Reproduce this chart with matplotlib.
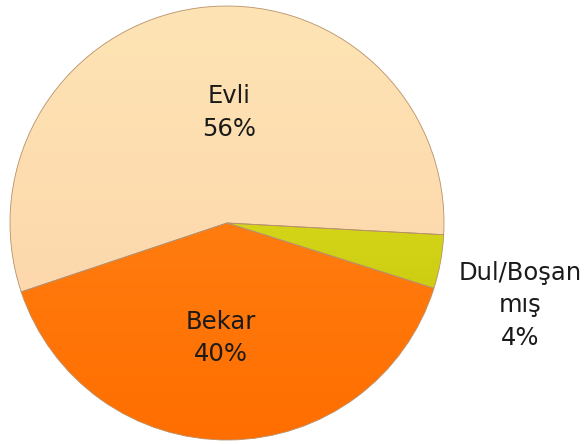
import numpy as np
import matplotlib
matplotlib.use("Agg")
from matplotlib import pyplot as plt
from matplotlib.colors import LinearSegmentedColormap

# data
labels = ['Evli', 'Dul/Boşan\nmış', 'Bekar']
shares = [56, 4, 40]
colors_top = ['#FEE4B4', '#ECEC30', '#FF8A1E']
colors_bottom = ['#FCD2A8', '#BCBC00', '#FF6E00']

fig = plt.figure(figsize=(5.88, 4.44), dpi=100)
# pie centre at (227, 223) px, radius 217 px
ax = fig.add_axes([(227 - 217) / 588, (444 - 223 - 217) / 444, 434 / 588, 434 / 444])

wedges, _ = ax.pie(shares, startangle=198.5, counterclock=False, radius=1,
                   colors=colors_bottom,
                   wedgeprops=dict(edgecolor='#B8906A', linewidth=0.6))
ax.set_xlim(-1, 1)
ax.set_ylim(-1, 1)
ax.set_aspect('equal')
ax.axis('off')

# vertical gradient fill clipped to each wedge
grad = np.linspace(0, 1, 256).reshape(-1, 1)
for w, c_top, c_bot in zip(wedges, colors_top, colors_bottom):
    cmap = LinearSegmentedColormap.from_list('g', [c_bot, c_top])
    im = ax.imshow(grad, cmap=cmap, extent=(-1, 1, -1, 1), origin='lower',
                   aspect='auto', zorder=w.get_zorder() + 0.1)
    im.set_clip_path(w)
    w.set_zorder(w.get_zorder() + 0.2)
    w.set_facecolor('none')

# labels
txt = dict(ha='center', va='center', fontsize=17.5, color='#1a1a1a',
           linespacing=1.45, family='DejaVu Sans')
ax.text(0.01, 0.51, '%s\n%d%%' % (labels[0], shares[0]), **txt)
ax.text(-0.03, -0.53, '%s\n%d%%' % (labels[2], shares[2]), **txt)
ax.text(1.35, -0.38, '%s\n%d%%' % (labels[1], shares[1]), clip_on=False, **txt)

fig.savefig('out.png', dpi=100)
